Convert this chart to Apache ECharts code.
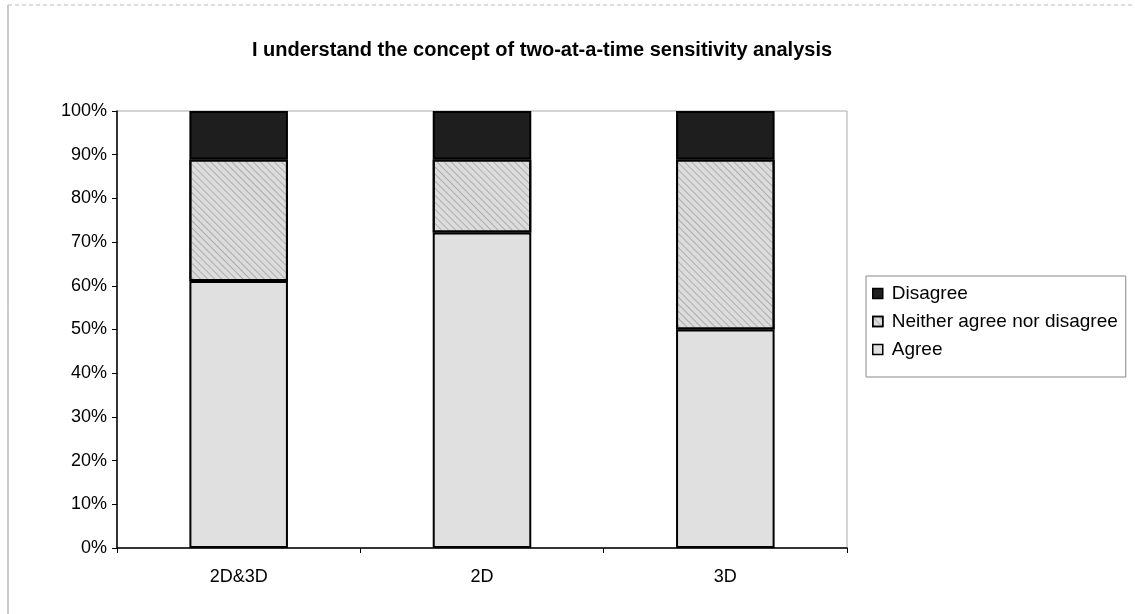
<!DOCTYPE html>
<html>
<head>
<meta charset="utf-8">
<script src="https://cdn.jsdelivr.net/npm/echarts@6/dist/echarts.min.js"></script>
<style>
  html, body { margin: 0; padding: 0; background: #fff; }
  #chart { width: 1135px; height: 614px; }
</style>
</head>
<body>
<div id="chart"></div>
<script>
// survey answers, percent of respondents
const groups = ['2D&3D', '2D', '3D'];
const agree = [61.1, 72.2, 50.0];
const neither = [27.8, 16.7, 38.9];
const disagree = [11.1, 11.1, 11.1];
const yTicks = [0, 10, 20, 30, 40, 50, 60, 70, 80, 90, 100];

let chart = echarts.init(document.getElementById('chart'));

const font = 'Arial, "Liberation Sans", sans-serif';

function barSeries(name, data, color, decal) {
  let s = {
    name: name,
    type: 'bar',
    stack: 'all',
    data: data,
    barWidth: '40.5%',
    itemStyle: { color: color, borderColor: '#000', borderWidth: 2 },
    emphasis: { disabled: true }
  };
  if (decal) s.itemStyle.decal = decal;
  return s;
}

// crosshatch-ish texture for the middle band
const hatch = {
  symbol: 'rect',
  symbolSize: 1,
  color: 'rgba(90,90,90,0.35)',
  dashArrayX: [1, 0],
  dashArrayY: [1, 4],
  rotation: Math.PI / 4
};

let option = {
  animation: false,
  title: {
    text: 'I understand the concept of two-at-a-time sensitivity analysis',
    left: 537, top: 35, textAlign: 'center',
    textStyle: { fontFamily: font, fontSize: 20, fontWeight: 'bold', color: '#000' }
  },
  legend: {
    orient: 'vertical',
    left: 866, top: 276,
    padding: [8, 8, 18, 6],
    itemGap: 9,
    itemWidth: 10, itemHeight: 10,
    icon: 'rect',
    borderColor: '#888', borderWidth: 1,
    data: ['Disagree', 'Neither agree nor disagree', 'Agree'],
    textStyle: { fontFamily: font, fontSize: 19, color: '#000', padding: [0, 0, 0, 4] },
    itemStyle: { borderColor: '#000', borderWidth: 1.5 }
  },
  grid: {
    left: 117, right: 288, top: 111, bottom: 66,
    show: true, borderColor: '#aaa', borderWidth: 1
  },
  xAxis: {
    type: 'category',
    data: groups,
    axisLine: { lineStyle: { color: '#000', width: 1.5 } },
    axisTick: { show: true, length: 5, lineStyle: { color: '#000' } },
    axisLabel: { fontFamily: font, fontSize: 18, color: '#000', margin: 20 }
  },
  yAxis: {
    type: 'value',
    min: 0, max: 100, interval: 10,
    axisLine: { show: true, lineStyle: { color: '#000', width: 1.5 } },
    axisTick: { show: true, length: 5, inside: false, lineStyle: { color: '#000' } },
    splitLine: { show: false },
    axisLabel: {
      fontFamily: font, fontSize: 18, color: '#000', margin: 10,
      formatter: v => yTicks.includes(v) ? v + '%' : ''
    }
  },
  series: [
    barSeries('Agree', agree, '#e0e0e0'),
    barSeries('Neither agree nor disagree', neither, '#dcdcdc', hatch),
    barSeries('Disagree', disagree, '#1e1e1e')
  ],
  graphic: [
    { type: 'line', shape: { x1: 8, y1: 5, x2: 8, y2: 614 }, style: { stroke: '#999', lineWidth: 1 } },
    { type: 'line', shape: { x1: 8, y1: 5, x2: 1135, y2: 5 }, style: { stroke: '#bbb', lineWidth: 1, lineDash: [4, 3] } }
  ]
};

chart.setOption(option);
</script>
</body>
</html>
